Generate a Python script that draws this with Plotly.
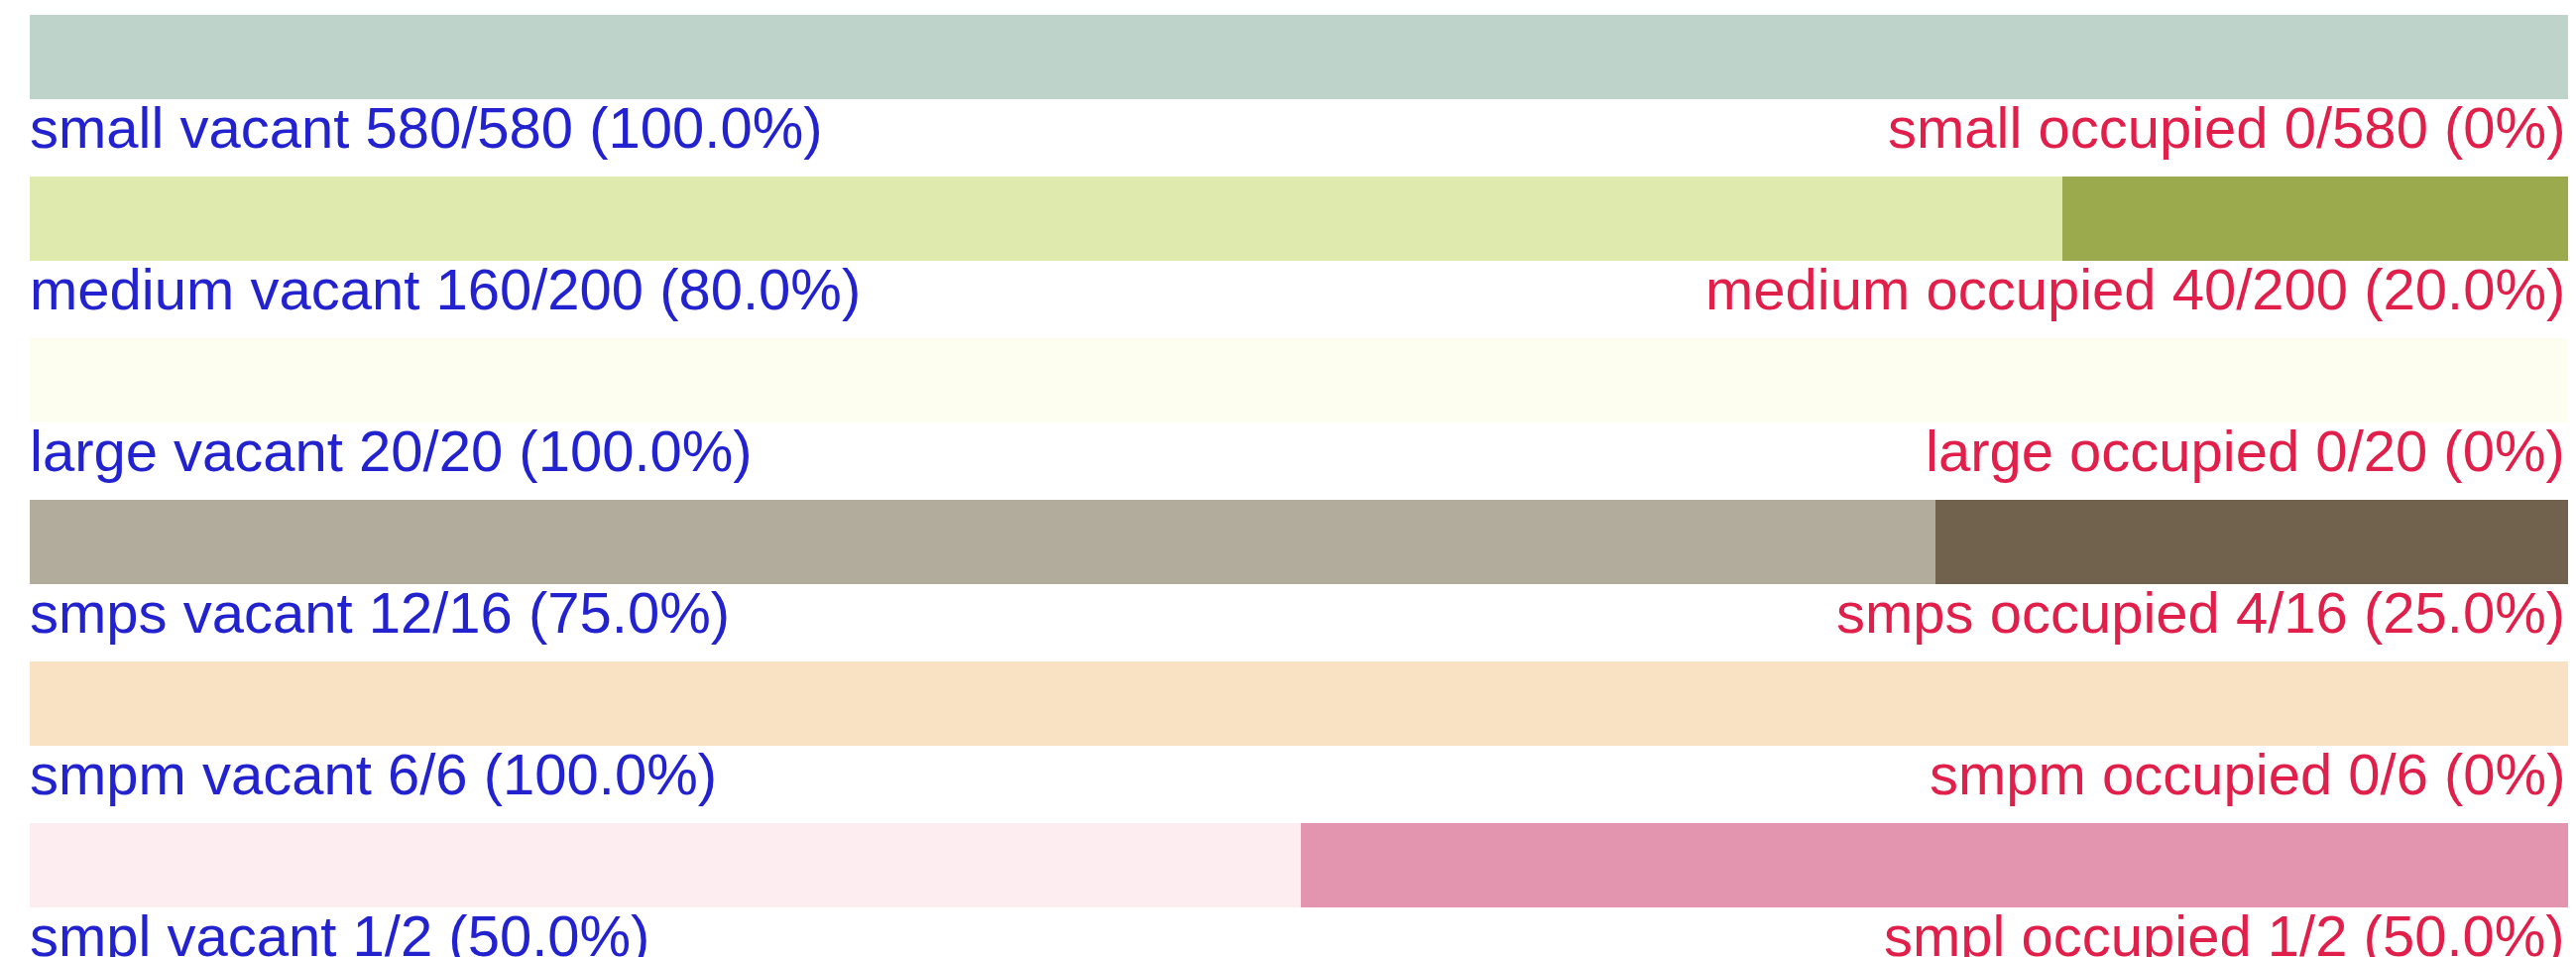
import plotly.graph_objects as go

categories = ["small", "medium", "large", "smps", "smpm", "smpl"]
vacant = [580, 160, 20, 12, 6, 1]
occupied = [0, 40, 0, 4, 0, 1]
totals = [580, 200, 20, 16, 6, 2]

vacant_colors = ["#BED3C9", "#DFEAAF", "#FDFEEF", "#B2AC9D", "#F9E1C3", "#FDEDF0"]
occupied_colors = ["#7FA596", "#9AAA4D", "#E8E8B0", "#71624D", "#E0B47E", "#E395AF"]

BLUE = "#2222CF"
RED = "#E0204A"
FONT = "Liberation Sans"
FS = 58


def pct(v, t):
    if v == 0:
        return "0%"
    return f"{100.0 * v / t:.1f}%"


rows = list(range(len(categories)))
vac_share = [v / t for v, t in zip(vacant, totals)]
occ_share = [o / t for o, t in zip(occupied, totals)]

fig = go.Figure()
fig.add_trace(go.Bar(
    y=rows, x=vac_share, orientation="h", width=0.5215,
    marker=dict(color=vacant_colors, line=dict(width=0)),
    hoverinfo="skip", showlegend=False,
))
fig.add_trace(go.Bar(
    y=rows, x=occ_share, orientation="h", width=0.5215,
    marker=dict(color=occupied_colors, line=dict(width=0)),
    hoverinfo="skip", showlegend=False,
))

annotations = []
for k, c in enumerate(categories):
    annotations.append(dict(
        x=0, y=k, xref="x", yref="y", xanchor="left", yanchor="middle",
        yshift=-71, xshift=-2, showarrow=False,
        text=f"{c} vacant {vacant[k]}/{totals[k]} ({pct(vacant[k], totals[k])})",
        font=dict(family=FONT, size=FS, color=BLUE),
    ))
    annotations.append(dict(
        x=1, y=k, xref="x", yref="y", xanchor="right", yanchor="middle",
        yshift=-71, xshift=-4, showarrow=False,
        text=f"{c} occupied {occupied[k]}/{totals[k]} ({pct(occupied[k], totals[k])})",
        font=dict(family=FONT, size=FS, color=RED),
    ))

# page body has an 8px default margin, so the figure is 8px smaller
fig.update_layout(
    width=2590, height=957,
    margin=dict(l=22, r=5, t=0, b=0),
    barmode="stack",
    bargap=0,
    plot_bgcolor="white", paper_bgcolor="white",
    xaxis=dict(range=[0, 1], visible=False, fixedrange=True),
    yaxis=dict(range=[5.5675, -0.3037], visible=False, fixedrange=True),
    annotations=annotations,
)

fig.write_html("out.html", config={"displayModeBar": False})
